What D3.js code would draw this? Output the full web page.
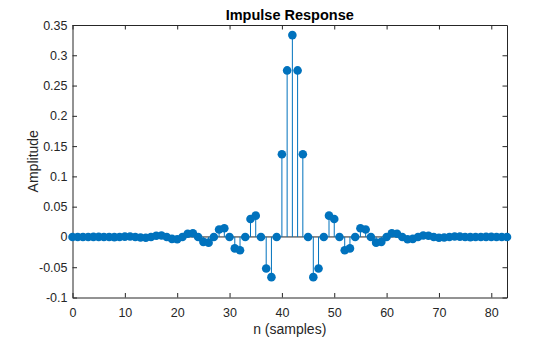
<!DOCTYPE html>
<html>
<head>
<meta charset="utf-8">
<script src="https://cdn.jsdelivr.net/npm/d3@7"></script>
<style>
  html, body { margin: 0; padding: 0; background: #fff; }
  svg { display: block; font-family: "Liberation Sans", Arial, Helvetica, sans-serif; }
</style>
</head>
<body>
<svg id="chart" width="560" height="337"></svg>
<script>
// Filter taps h[n], n = 0..83
const samples = d3.range(0, 84);
const amplitude = [
  0, 0, 0, 0, 0.0001, 0.0001, 0, -0.0002, -0.0003, 0,
  0.0005, 0.0007, 0, -0.0010, -0.0013, 0, 0.0019, 0.0023, 0, -0.0032,
  -0.0038, 0, 0.0052, 0.0061, 0, -0.0081, -0.0094, 0, 0.0124, 0.0143,
  0, -0.0189, -0.0219, 0, 0.0297, 0.0352, 0, -0.0521, -0.0664, 0,
  0.1366, 0.2750, 0.3333, 0.2750, 0.1366, 0, -0.0664, -0.0521, 0, 0.0352,
  0.0297, 0, -0.0219, -0.0189, 0, 0.0143, 0.0124, 0, -0.0094, -0.0081,
  0, 0.0061, 0.0052, 0, -0.0038, -0.0032, 0, 0.0023, 0.0019, 0,
  -0.0013, -0.0010, 0, 0.0007, 0.0005, 0, -0.0003, -0.0002, 0, 0.0001,
  0.0001, 0, 0, 0
];
const xTicks = [0, 10, 20, 30, 40, 50, 60, 70, 80];
const yTicks = [-0.1, -0.05, 0, 0.05, 0.1, 0.15, 0.2, 0.25, 0.3, 0.35];
const xDomain = [0, 83];
const yDomain = [-0.1, 0.35];

const titleText = "Impulse Response";
const xLabelText = "n (samples)";
const yLabelText = "Amplitude";

const svg = d3.select("#chart");
const margin = { left: 72.5, top: 25, right: 53, bottom: 39.5 };
const W = 560, H = 337;
const x = d3.scaleLinear().domain(xDomain).range([margin.left, W - margin.right]);
const y = d3.scaleLinear().domain(yDomain).range([H - margin.bottom, margin.top]);

const axisColor = "#262626";
const blue = "#0072BD";
const tickLen = 4.5;

// plain hyphen for negatives, trailing zeros dropped
const fmtY = v => {
  const s = (Math.round(v * 100) / 100).toFixed(2);
  return s.replace(/0+$/, "").replace(/\.$/, "");
};

// axes box (ticks point inward)
const gx = svg.append("g").attr("transform", `translate(0,${y(yDomain[0])})`)
  .call(d3.axisBottom(x).tickValues(xTicks).tickSizeInner(-tickLen).tickSizeOuter(0).tickPadding(10.5));
const gxTop = svg.append("g").attr("transform", `translate(0,${y(yDomain[1])})`)
  .call(d3.axisTop(x).tickValues(xTicks).tickSizeInner(-tickLen).tickSizeOuter(0).tickFormat(""));
const gy = svg.append("g").attr("transform", `translate(${x(xDomain[0])},0)`)
  .call(d3.axisLeft(y).tickValues(yTicks).tickSizeInner(-tickLen).tickSizeOuter(0).tickPadding(5).tickFormat(fmtY));
const gyRight = svg.append("g").attr("transform", `translate(${x(xDomain[1])},0)`)
  .call(d3.axisRight(y).tickValues(yTicks).tickSizeInner(-tickLen).tickSizeOuter(0).tickFormat(""));

[gx, gxTop, gy, gyRight].forEach(g => {
  g.selectAll(".domain").attr("stroke", axisColor).attr("stroke-width", 1);
  g.selectAll(".tick line").attr("stroke", axisColor).attr("stroke-width", 1);
  g.selectAll(".tick text").attr("fill", axisColor).style("font-size", "12.5px");
});

// baseline at zero
svg.append("line")
  .attr("x1", x(xDomain[0])).attr("x2", x(xDomain[1]))
  .attr("y1", y(0)).attr("y2", y(0))
  .attr("stroke", "#262626").attr("stroke-width", 1);

const data = samples.map((n, i) => ({ n, v: amplitude[i] }));

// stems
svg.append("g").selectAll("line").data(data).join("line")
  .attr("x1", d => x(d.n)).attr("x2", d => x(d.n))
  .attr("y1", y(0)).attr("y2", d => y(d.v))
  .attr("stroke", blue).attr("stroke-width", 1);

// markers
svg.append("g").selectAll("circle").data(data).join("circle")
  .attr("cx", d => x(d.n)).attr("cy", d => y(d.v))
  .attr("r", 4.3).attr("fill", blue);

// title and labels
svg.append("text")
  .attr("x", (x(xDomain[0]) + x(xDomain[1])) / 2).attr("y", 20)
  .attr("text-anchor", "middle").attr("font-weight", "bold")
  .style("font-size", "14.5px").attr("fill", "#000")
  .text(titleText);

svg.append("text")
  .attr("x", (x(xDomain[0]) + x(xDomain[1])) / 2).attr("y", 333.5)
  .attr("text-anchor", "middle").style("font-size", "14px").attr("fill", axisColor)
  .text(xLabelText);

svg.append("text")
  .attr("transform", `translate(38,${(y(yDomain[0]) + y(yDomain[1])) / 2}) rotate(-90)`)
  .attr("text-anchor", "middle").style("font-size", "14px").attr("fill", axisColor)
  .text(yLabelText);
</script>
</body>
</html>
